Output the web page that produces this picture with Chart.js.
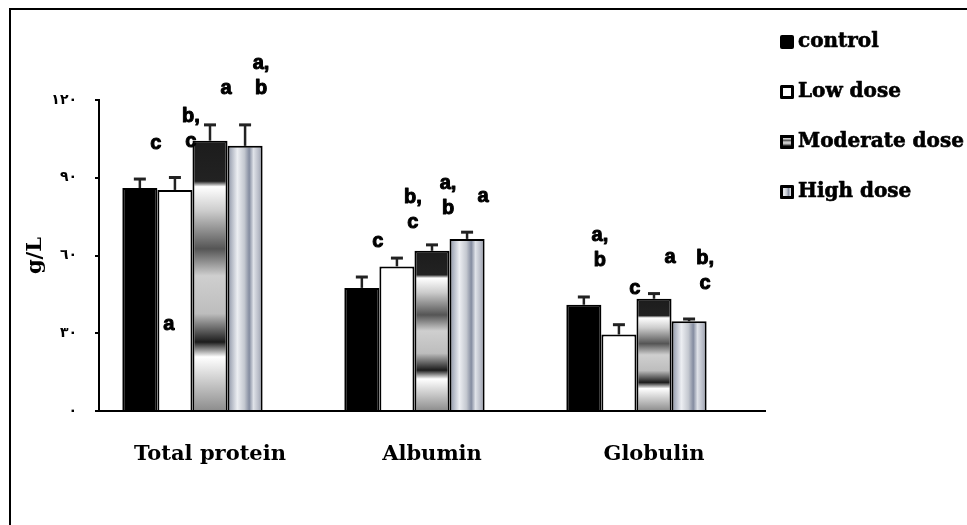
<!DOCTYPE html>
<html>
<head>
<meta charset="utf-8">
<script src="https://cdn.jsdelivr.net/npm/chart.js@4.4.1/dist/chart.umd.min.js"></script>
<style>
  html, body { margin: 0; padding: 0; background: #fff; }
  #wrap { position: relative; width: 967px; height: 525px; }
</style>
</head>
<body>
<div id="wrap"><canvas id="chart" width="967" height="525"></canvas></div>
<script>
// Werte
const categories = ['Total protein', 'Albumin', 'Globulin'];
const seriesNames = ['control', 'Low dose', 'Moderate dose', 'High dose'];

const controlMeans  = [86.0, 47.5, 41.0];
const lowMeans      = [85.3, 55.8, 29.5];
const moderateMeans = [104.3, 61.8, 43.3];
const highMeans     = [102.3, 66.4, 34.6];

const controlErr  = [3.5, 4.2, 3.0];
const lowErr      = [4.8, 3.2, 3.8];
const moderateErr = [6.1, 2.3, 2.0];
const highErr     = [8.1, 2.6, 0.9];

// Signifikanzbuchstaben über den Balken
const controlSig  = ['c', 'c', 'a,\nb'];
const lowSig      = ['b,\nc', 'b,\nc', 'c'];
const moderateSig = ['a', 'a,\nb', 'a'];
const highSig     = ['a,\nb', 'a', 'b,\nc'];

// einzelner Buchstabe im Balken "Low dose / Total protein"
const strayText = 'a';
const strayValue = 33.3;

const yTicks = [0, 30, 60, 90, 120];
const yTickLabels = ['٠', '٣٠', '٦٠', '٩٠', '١٢٠'];

const allMeans = [controlMeans, lowMeans, moderateMeans, highMeans];
const allErr = [controlErr, lowErr, moderateErr, highErr];
const allSig = [controlSig, lowSig, moderateSig, highSig];

const CAT_PCT = 0.79;
const SLOTS = 5; // Excel-Gruppe hatte einen leeren fünften Platz

// Pixelgrenzen eines Balkens, direkt aus der x-Skala
function barBox(chart, ds, i) {
  const x = chart.scales.x;
  const cat = x.width / categories.length;
  const slot = cat * CAT_PCT / SLOTS;
  const left = x.getPixelForValue(i) - cat * CAT_PCT / 2 + ds * slot;
  return { left, right: left + slot, center: left + slot / 2 };
}

function moderateGradient(c2d, top, bot) {
  const g = c2d.createLinearGradient(0, top, 0, bot);
  g.addColorStop(0, '#1c1c1c');
  g.addColorStop(0.15, '#222222');
  g.addColorStop(0.17, '#ffffff');
  g.addColorStop(0.26, '#cccccc');
  g.addColorStop(0.40, '#555555');
  g.addColorStop(0.50, '#cfcfcf');
  g.addColorStop(0.64, '#bdbdbd');
  g.addColorStop(0.745, '#1c1c1c');
  g.addColorStop(0.80, '#ffffff');
  g.addColorStop(1, '#8c8c8c');
  return g;
}

function highGradient(c2d, left, right) {
  const g = c2d.createLinearGradient(left, 0, right, 0);
  g.addColorStop(0, '#8a92a4');
  g.addColorStop(0.28, '#eceef2');
  g.addColorStop(0.48, '#c4c8d0');
  g.addColorStop(0.62, '#848ca0');
  g.addColorStop(0.74, '#dfe2e8');
  g.addColorStop(0.9, '#b4b8c4');
  g.addColorStop(1, '#8a92a4');
  return g;
}

function moderateFill(ctx) {
  const chart = ctx.chart;
  if (!chart.chartArea || ctx.raw == null) return '#aaaaaa';
  const y = chart.scales.y;
  return moderateGradient(chart.ctx, y.getPixelForValue(ctx.raw), y.getPixelForValue(0));
}

function highFill(ctx) {
  const chart = ctx.chart;
  if (!chart.chartArea || ctx.raw == null) return '#c4c8d0';
  const b = barBox(chart, ctx.datasetIndex, ctx.dataIndex);
  return highGradient(chart.ctx, b.left, b.right);
}

// Rahmen oben/links
const framePlugin = {
  id: 'frame',
  beforeDraw(chart) {
    const c = chart.ctx;
    c.save();
    c.fillStyle = '#fff';
    c.fillRect(0, 0, chart.width, chart.height);
    c.fillStyle = '#000';
    c.fillRect(9, 8, chart.width - 9, 2);
    c.fillRect(9, 8, 2, chart.height - 8);
    c.restore();
  }
};

// fette Schrift etwas kräftiger zeichnen
function heavyText(c, t, x, y, w) {
  c.lineWidth = w;
  c.strokeStyle = '#000';
  c.lineJoin = 'round';
  c.strokeText(t, x, y);
  c.fillText(t, x, y);
}

// Fehlerbalken und Buchstaben
const annotatePlugin = {
  id: 'annotate',
  afterDatasetsDraw(chart) {
    const c = chart.ctx;
    const y = chart.scales.y;
    c.save();
    allMeans.forEach((means, s) => {
      means.forEach((v, i) => {
        const b = barBox(chart, s, i);
        const top = y.getPixelForValue(v);
        const cap = y.getPixelForValue(v + allErr[s][i]);
        c.strokeStyle = '#222';
        c.lineWidth = 2.5;
        c.beginPath();
        c.moveTo(b.center, top);
        c.lineTo(b.center, cap);
        c.stroke();
        c.lineWidth = 3;
        c.beginPath();
        c.moveTo(b.center - 6, cap);
        c.lineTo(b.center + 6, cap);
        c.stroke();

        const lines = allSig[s][i].split('\n');
        c.fillStyle = '#000';
        c.font = 'bold 20px "Liberation Sans", Arial, sans-serif';
        c.textAlign = 'center';
        c.textBaseline = 'middle';
        lines.forEach((t, k) => {
          const ly = cap - 36 - (lines.length - 1 - k) * 25;
          heavyText(c, t, b.center + 16, ly, 1);
        });
      });
    });
    const sb = barBox(chart, 1, 0);
    heavyText(c, strayText, sb.center - 6, y.getPixelForValue(strayValue), 1);
    c.restore();
  }
};

// Legende rechts
const legendPlugin = {
  id: 'sideLegend',
  afterDraw(chart) {
    const c = chart.ctx;
    const rows = [42, 92, 142, 192];
    c.save();
    seriesNames.forEach((name, s) => {
      const cy = rows[s];
      const x0 = 780, sz = 14, y0 = cy - sz / 2;
      if (s === 0) {
        c.fillStyle = '#000';
        c.beginPath();
        c.roundRect(x0, y0, sz, sz, 2);
        c.fill();
      } else {
        if (s === 1) c.fillStyle = '#fff';
        else if (s === 2) c.fillStyle = moderateGradient(c, y0, y0 + sz);
        else c.fillStyle = highGradient(c, x0, x0 + sz);
        c.fillRect(x0, y0, sz, sz);
        c.strokeStyle = '#000';
        c.lineWidth = 3;
        c.strokeRect(x0 + 1.5, y0 + 1.5, sz - 3, sz - 3);
      }
      c.fillStyle = '#000';
      c.font = 'bold 20px "DejaVu Serif", serif';
      c.textAlign = 'left';
      c.textBaseline = 'middle';
      heavyText(c, name, 798, cy, 0.6);
    });
    c.restore();
  }
};

new Chart(document.getElementById('chart'), {
  type: 'bar',
  data: {
    labels: categories,
    datasets: [
      { label: seriesNames[0], data: controlMeans, backgroundColor: '#000', borderColor: '#000', borderWidth: 2 },
      { label: seriesNames[1], data: lowMeans, backgroundColor: '#fff', borderColor: '#000', borderWidth: 2 },
      { label: seriesNames[2], data: moderateMeans, backgroundColor: moderateFill, borderColor: '#000', borderWidth: 2 },
      { label: seriesNames[3], data: highMeans, backgroundColor: highFill, borderColor: '#000', borderWidth: 2 },
      { label: '', data: categories.map(() => null) } // leerer Platz wie im Original
    ]
  },
  options: {
    responsive: false,
    animation: false,
    layout: { padding: { top: 100, right: 202, left: 0, bottom: 0 } },
    datasets: { bar: { categoryPercentage: CAT_PCT, barPercentage: 1 } },
    plugins: { legend: { display: false }, tooltip: { enabled: false } },
    scales: {
      x: {
        grid: { display: false },
        border: { display: true, color: '#000', width: 2 },
        ticks: {
          color: '#000',
          padding: 23,
          font: { family: '"DejaVu Serif", serif', size: 21, weight: 'bold' }
        },
        afterFit: s => { s.height = 114; }
      },
      y: {
        min: 0,
        max: 120,
        afterBuildTicks: s => { s.ticks = yTicks.map(v => ({ value: v })); },
        grid: { drawOnChartArea: false, color: '#000', lineWidth: 2, tickLength: 4 },
        border: { display: true, color: '#000', width: 2 },
        ticks: {
          color: '#000',
          padding: 18,
          font: { family: '"DejaVu Sans", sans-serif', size: 14, weight: 'bold' },
          callback: v => yTickLabels[yTicks.indexOf(v)]
        },
        title: {
          display: true,
          text: 'g/L',
          color: '#000',
          padding: { top: 23, bottom: 0 },
          font: { family: '"DejaVu Serif", serif', size: 21, weight: 'bold' }
        },
        afterFit: s => { s.width = 99; }
      }
    }
  },
  plugins: [framePlugin, annotatePlugin, legendPlugin]
});
</script>
</body>
</html>
